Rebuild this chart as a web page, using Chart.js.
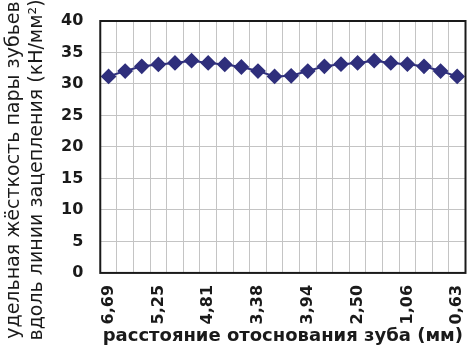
<!DOCTYPE html>
<html>
<head>
<meta charset="utf-8">
<script src="https://cdn.jsdelivr.net/npm/chart.js@4.4.1/dist/chart.umd.min.js"></script>
<style>
html,body{margin:0;padding:0;background:#fff;}
#wrap{width:474px;height:356px;position:relative;}
</style>
</head>
<body>
<div id="wrap"><canvas id="c" width="474" height="356"></canvas></div>
<script>
// Categories: 22 positions, labelled every third one as in the reference
const categories = ['6,69','','','5,25','','','4,81','','','3,38','','','3,94','','','2,50','','','1,06','','','0,63'];
const stiffness = [31.2,32.05,32.8,33.1,33.35,33.7,33.35,33.1,32.7,32.05,31.2,31.3,32.05,32.8,33.15,33.35,33.7,33.35,33.15,32.8,32.05,31.2];
const yTicks = [0,5,10,15,20,25,30,35,40];
const xTitle = 'расстояние отоснования зуба (мм)';
const yTitle = ['удельная жёсткость пары зубьев','вдоль линии зацепления (кН/мм²)'];

const FONT = '"DejaVu Sans", "Liberation Sans", Arial, sans-serif';

const borderBox = {
  id:'borderBox',
  afterDraw(chart){
    const a = chart.chartArea, ctx = chart.ctx;
    ctx.save();
    ctx.strokeStyle = '#1a1a1a';
    ctx.lineWidth = 2;
    ctx.strokeRect(a.left, a.top, a.right - a.left, a.bottom - a.top);
    ctx.restore();
  }
};

// Two-line y-axis title, placed like the reference (centred a bit below the plot centre)
const yTitlePlugin = {
  id:'yTitlePlugin',
  afterDraw(chart){
    const ctx = chart.ctx;
    ctx.save();
    ctx.fillStyle = '#1a1a1a';
    ctx.font = '19px ' + FONT;
    ctx.textAlign = 'center';
    ctx.textBaseline = 'middle';
    const cy = 170;
    [14, 37].forEach((cx, i) => {
      ctx.save();
      ctx.translate(cx, cy);
      ctx.rotate(-Math.PI / 2);
      ctx.fillText(yTitle[i], 0, 0);
      ctx.restore();
    });
    ctx.restore();
  }
};

new Chart(document.getElementById('c'), {
  type:'line',
  data:{
    labels: categories,
    datasets:[{
      data: stiffness,
      borderColor:'#2f2f7c',
      backgroundColor:'#2f2f7c',
      borderWidth:2,
      pointStyle:'rectRot',
      pointRadius:6.5,
      pointBackgroundColor:'#2f2f7c',
      pointBorderColor:'#2f2f7c',
      tension:0
    }]
  },
  options:{
    responsive:false,
    animation:false,
    devicePixelRatio:1,
    layout:{padding:{left:44,right:7,top:21,bottom:9}},
    plugins:{legend:{display:false},tooltip:{enabled:false}},
    scales:{
      x:{
        type:'category',
        offset:true,
        afterFit(scale){ scale.paddingLeft = 0; scale.paddingRight = 0; },
        grid:{offset:true,color:'#c4c4c4',lineWidth:1,drawTicks:false},
        border:{display:false},
        ticks:{
          autoSkip:false,minRotation:90,maxRotation:90,padding:12,
          color:'#1a1a1a',
          font:{family:FONT,size:16,weight:'bold'}
        },
        title:{display:true,text:xTitle,color:'#1a1a1a',padding:{top:-11,bottom:0},
          font:{family:FONT,size:18,weight:'bold'}}
      },
      y:{
        min:0,max:40,
        afterFit(scale){ scale.paddingTop = 0; scale.paddingBottom = 0; },
        afterBuildTicks(scale){ scale.ticks = yTicks.map(v=>({value:v})); },
        grid:{color:'#c4c4c4',lineWidth:1,drawTicks:false},
        border:{display:false},
        ticks:{padding:17,color:'#1a1a1a',
          font:{family:FONT,size:16,weight:'bold'}},
        title:{display:false}
      }
    }
  },
  plugins:[borderBox, yTitlePlugin]
});
</script>
</body>
</html>
